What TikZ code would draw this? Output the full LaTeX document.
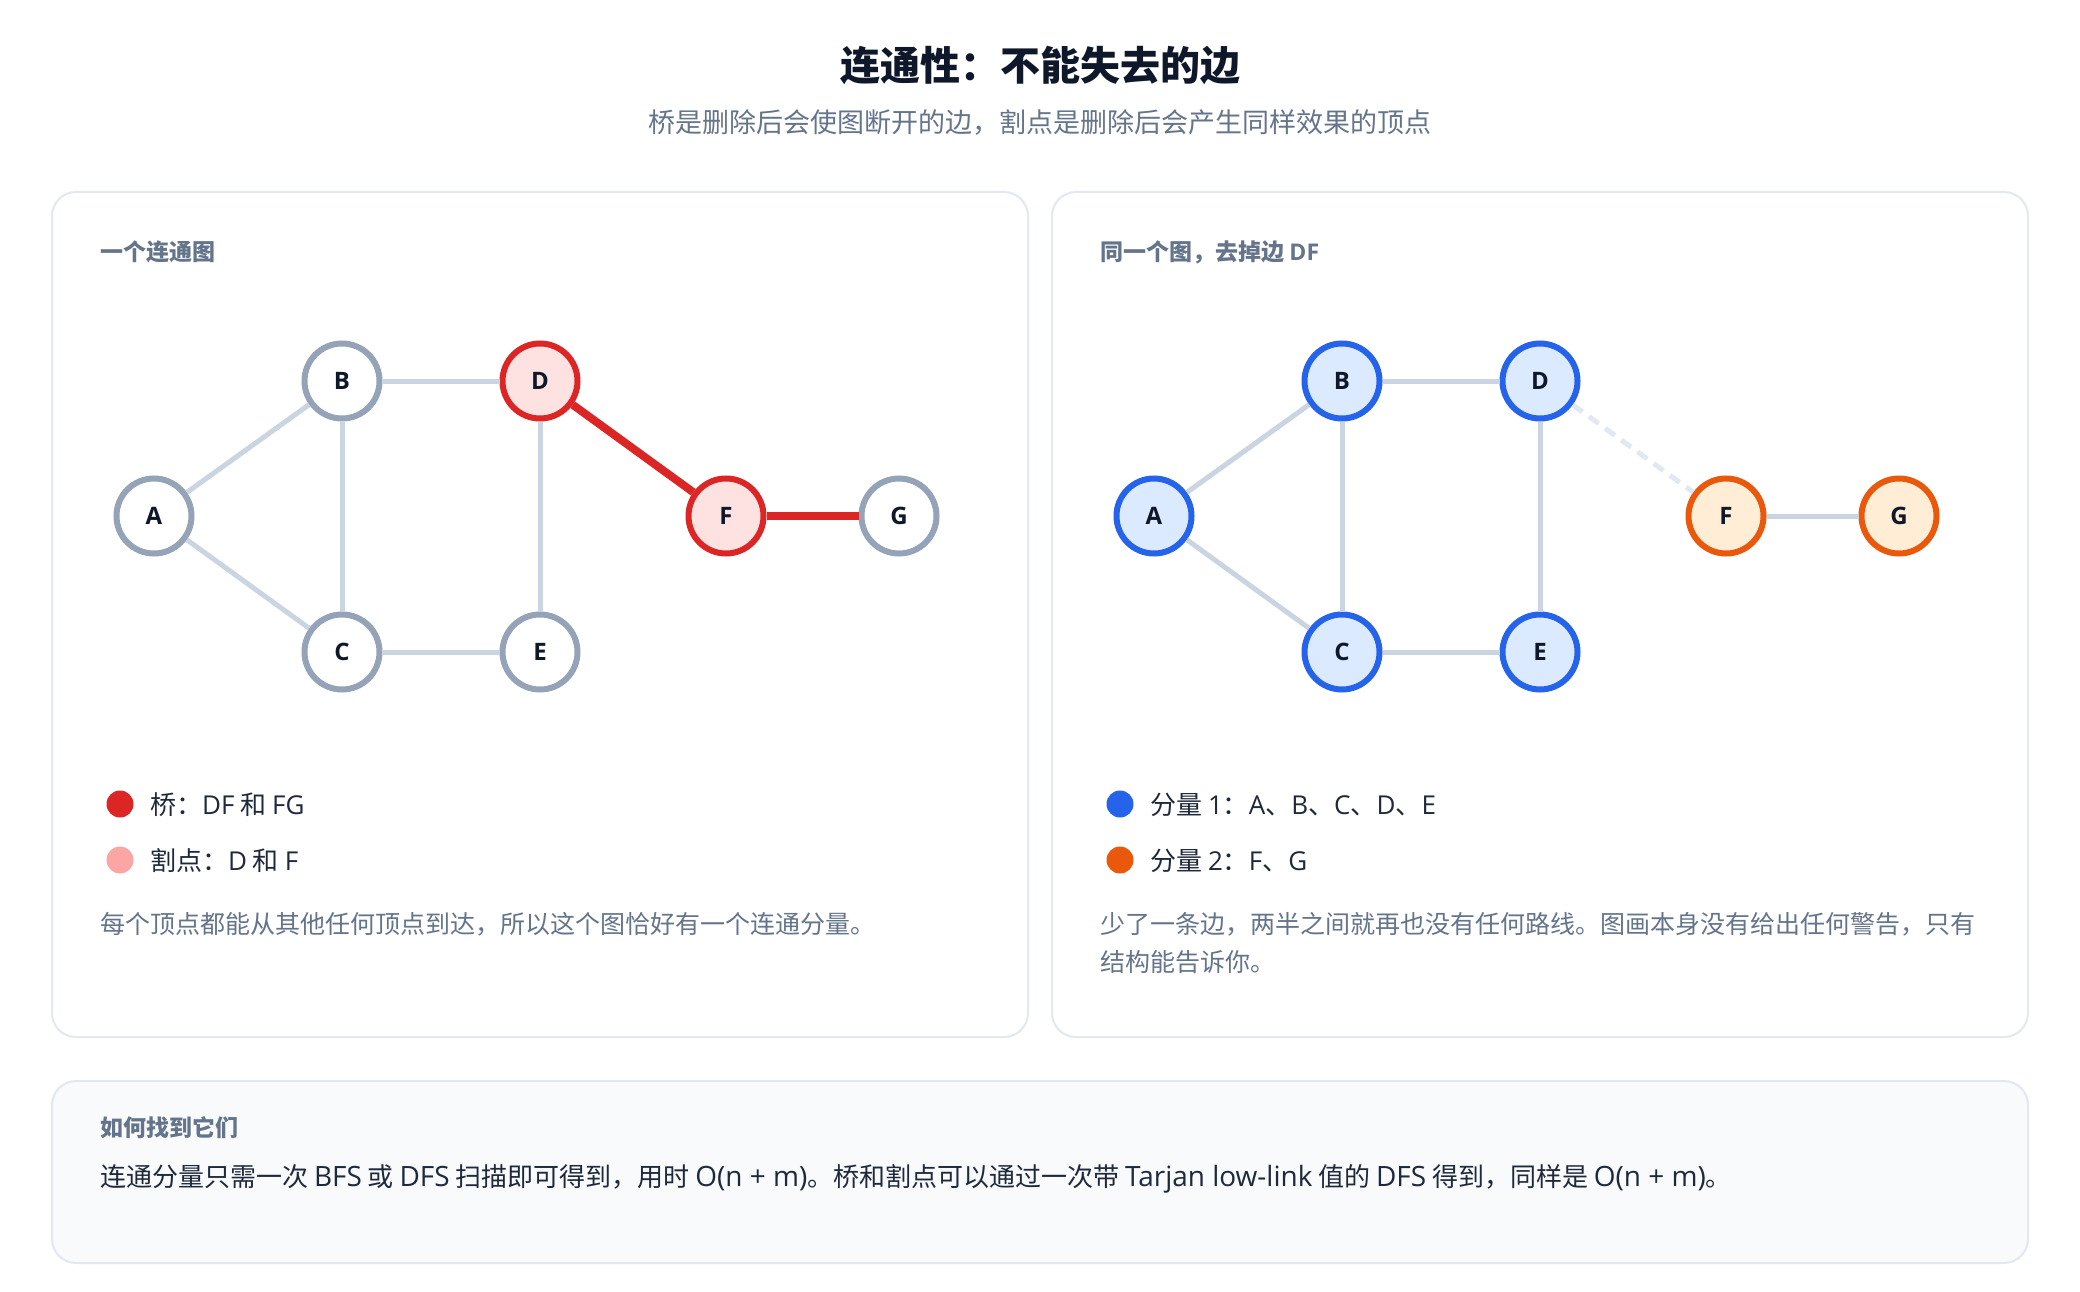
\documentclass[tikz,border=0pt]{standalone}
\usepackage{fontspec}
\setmainfont{Noto Sans CJK SC}
\newfontfamily\latinfont{Open Sans}
\newfontfamily\latinbig[Scale=1.075]{Open Sans}
\newcommand{\la}[1]{{\latinfont #1}}
\newcommand{\lb}[1]{{\latinbig #1}}
\definecolor{ink}{HTML}{0F172A}
\definecolor{body}{HTML}{1E293B}
\definecolor{muted}{HTML}{64748B}
\definecolor{panelline}{HTML}{E2E8F0}
\definecolor{panelfill}{HTML}{F8FAFC}
\definecolor{nodegray}{HTML}{94A3B8}
\definecolor{edgegray}{HTML}{CBD5E1}
\definecolor{dashgray}{HTML}{E2E8F0}
\definecolor{redline}{HTML}{DC2626}
\definecolor{redfill}{HTML}{FEE2E2}
\definecolor{redsoft}{HTML}{FCA5A5}
\definecolor{blueline}{HTML}{2563EB}
\definecolor{bluefill}{HTML}{DBEAFE}
\definecolor{orangeline}{HTML}{EA580C}
\definecolor{orangefill}{HTML}{FFEDD5}
\newcommand{\fsz}[1]{\fontsize{#1}{#1}\selectfont}
\begin{document}
\begin{tikzpicture}[x=1pt,y=-1pt,
  panel/.style={draw=panelline, line width=2pt, rounded corners=24pt, fill=white},
  gnode/.style={circle, minimum size=75pt, inner sep=0pt, line width=6pt, draw=nodegray, fill=white, text=ink, font=\latinfont\bfseries\fsz{24}},
  rednode/.style={gnode, draw=redline, fill=redfill},
  bluenode/.style={gnode, draw=blueline, fill=bluefill},
  orangenode/.style={gnode, draw=orangeline, fill=orangefill},
  gedge/.style={draw=edgegray, line width=5pt},
  redge/.style={draw=redline, line width=8pt},
  dedge/.style={draw=dashgray, line width=5pt, dash pattern=on 12pt off 8pt},
  ptitle/.style={anchor=west, inner sep=0pt, text=muted, font=\bfseries\fsz{23}},
  legtext/.style={anchor=west, inner sep=0pt, text=body, font=\fsz{26}},
  desc/.style={anchor=west, inner sep=0pt, text=muted, font=\fsz{25}, align=left},
  dot/.style={circle, minimum size=27pt, inner sep=0pt}
]
\useasboundingbox[fill=white] (0,0) rectangle (2080,1292);

% title
\node[text=ink, font=\bfseries\fsz{40}, inner sep=0pt] (title) at (1040,66) {连通性：不能失去的边};
\node[text=muted, font=\fsz{27}, inner sep=0pt] (subtitle) at (1040,123) {桥是删除后会使图断开的边，割点是删除后会产生同样效果的顶点};

% panels
\draw[panel] (52,192) rectangle (1028,1037);
\draw[panel] (1052,192) rectangle (2028,1037);
\draw[panel, fill=panelfill] (52,1081) rectangle (2028,1263);

% left panel
\node[ptitle] (lt) at (100,252) {一个连通图};
\node[gnode] (A) at (154,516) {A};
\node[gnode] (B) at (342,381) {B};
\node[gnode] (C) at (342,652) {C};
\node[rednode] (D) at (540,381) {D};
\node[gnode] (E) at (540,652) {E};
\node[rednode] (F) at (726,516) {F};
\node[gnode] (G) at (899,516) {G};
\draw[gedge] (A) -- (B);
\draw[gedge] (A) -- (C);
\draw[gedge] (B) -- (C);
\draw[gedge] (B) -- (D);
\draw[gedge] (C) -- (E);
\draw[gedge] (D) -- (E);
\draw[redge] (D) -- (F);
\draw[redge] (F) -- (G);

\node[dot, fill=redline] (ld1) at (120,804) {};
\node[legtext] (lt1) at (150,805) {桥：\la{DF} 和 \la{FG}};
\node[dot, fill=redsoft] (ld2) at (120,860) {};
\node[legtext] (lt2) at (150,861) {割点：\la{D} 和 \la{F}};
\node[desc] (ldesc) at (100,924) {每个顶点都能从其他任何顶点到达，所以这个图恰好有一个连通分量。};

% right panel
\node[ptitle] (rt) at (1100,252) {同一个图，去掉边 \la{DF}};
\node[bluenode] (A2) at (1154,516) {A};
\node[bluenode] (B2) at (1342,381) {B};
\node[bluenode] (C2) at (1342,652) {C};
\node[bluenode] (D2) at (1540,381) {D};
\node[bluenode] (E2) at (1540,652) {E};
\node[orangenode] (F2) at (1726,516) {F};
\node[orangenode] (G2) at (1899,516) {G};
\draw[gedge] (A2) -- (B2);
\draw[gedge] (A2) -- (C2);
\draw[gedge] (B2) -- (C2);
\draw[gedge] (B2) -- (D2);
\draw[gedge] (C2) -- (E2);
\draw[gedge] (D2) -- (E2);
\draw[dedge] (D2) -- (F2);
\draw[gedge] (F2) -- (G2);

\node[dot, fill=blueline] (rd1) at (1120,804) {};
\node[legtext] (rt1) at (1150,805) {分量 \la{1}：\la{A}、\la{B}、\la{C}、\la{D}、\la{E}};
\node[dot, fill=orangeline] (rd2) at (1120,860) {};
\node[legtext] (rt2) at (1150,861) {分量 \la{2}：\la{F}、\la{G}};
\node[desc, anchor=north west, font=\fontsize{25}{38}\selectfont] (rdesc) at (1100,912) {少了一条边，两半之间就再也没有任何路线。图画本身没有给出任何警告，只有\\结构能告诉你。};

% bottom panel
\node[ptitle] (bt) at (100,1128) {如何找到它们};
\node[legtext] (btext) at (100,1179) {连通分量只需一次 \lb{BFS} 或 \lb{DFS} 扫描即可得到，用时 \lb{O(n + m)}。桥和割点可以通过一次带 \lb{Tarjan low-link} 值的 \lb{DFS} 得到，同样是 \lb{O(n + m)}。};
\end{tikzpicture}
\end{document}
